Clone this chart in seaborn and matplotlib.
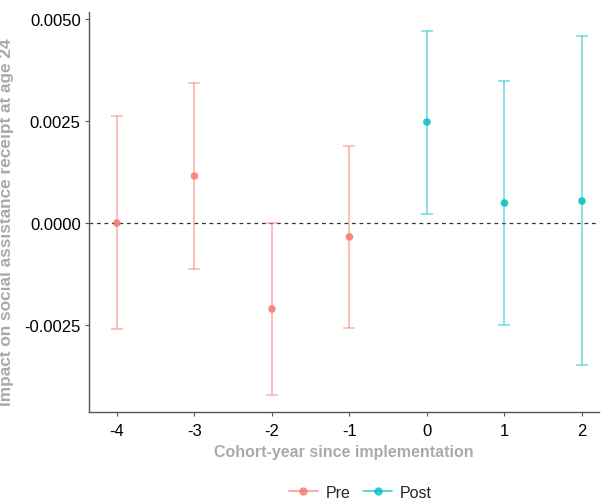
import matplotlib
matplotlib.use("Agg")
import matplotlib.pyplot as plt
from matplotlib.lines import Line2D
import seaborn as sns
import pandas as pd

periods = [-4, -3, -2, -1, 0, 1, 2]
groups = ["Pre", "Pre", "Pre", "Pre", "Post", "Post", "Post"]
estimate = [0.0000, 0.00115, -0.0021, -0.00034, 0.00247, 0.00049, 0.00054]
ci_low = [-0.00259, -0.00112, -0.0042, -0.00257, 0.00022, -0.00249, -0.00347]
ci_high = [0.00262, 0.00342, 0.0000, 0.00188, 0.0047, 0.00347, 0.00457]
tick_labels = ["-4", "-3", "-2", "-1", "0", "1", "2"]

df = pd.DataFrame({"period": periods, "group": groups, "est": estimate,
                   "lo": ci_low, "hi": ci_high})
palette = {"Pre": "#F8766D", "Post": "#00BFC4"}

sns.set_style("white")
plt.rcParams["font.family"] = ["Liberation Sans", "DejaVu Sans"]
fig = plt.figure(figsize=(6.01, 5.02), dpi=100)
ax = fig.add_axes([89/601, 89/502, 510/601, 400/502])

for _, r in df.iterrows():
    c = palette[r["group"]]
    ax.errorbar(r["period"], r["est"], yerr=[[r["est"] - r["lo"]], [r["hi"] - r["est"]]],
                fmt="none", ecolor=c, alpha=0.5, elinewidth=1.3, capsize=4.5, capthick=1.2, zorder=2)

sns.scatterplot(data=df, x="period", y="est", hue="group", palette=palette, s=30,
                edgecolor="none", alpha=0.85, legend=False, ax=ax, zorder=3)

ax.axhline(0, color="#333333", linestyle=(0, (3, 3)), linewidth=0.9, zorder=1)

ax.set_xlim(-4.36, 2.22)
ax.set_ylim(-0.00462, 0.00516)
ax.set_xticks(periods)
ax.set_xticklabels(tick_labels)
ax.set_yticks([-0.0025, 0.0, 0.0025, 0.005])
ax.set_yticklabels(["-0.0025", "0.0000", "0.0025", "0.0050"])
ax.tick_params(axis="both", labelsize=12, colors="black", length=3, width=0.8,
               direction="out", left=True, bottom=True, color="#555555", pad=3)
ax.tick_params(axis="x", pad=5)

for s in ["top", "right"]:
    ax.spines[s].set_visible(False)
for s in ["left", "bottom"]:
    ax.spines[s].set_color("#555555")
    ax.spines[s].set_linewidth(1.0)

ax.set_xlabel("Cohort-year since implementation", fontsize=11.5, fontweight="bold",
              color="#AAAAAA", labelpad=4)
ax.set_ylabel("Impact on social assistance receipt at age 24", fontsize=12.4,
              fontweight="bold", color="#AAAAAA", labelpad=8)
ax.yaxis.set_label_coords(-0.148, 0.4775)

handles = [Line2D([0], [0], color=palette[g], marker="o", markersize=5, linewidth=1.2,
                  alpha=0.75) for g in ["Pre", "Post"]]
fig.legend(handles, ["Pre", "Post"], loc="center", bbox_to_anchor=(0.6, 0.017), ncol=2,
           frameon=False, fontsize=11.5, handlelength=1.8, columnspacing=0.8, handletextpad=0.5)

fig.savefig("out.png", dpi=100)
